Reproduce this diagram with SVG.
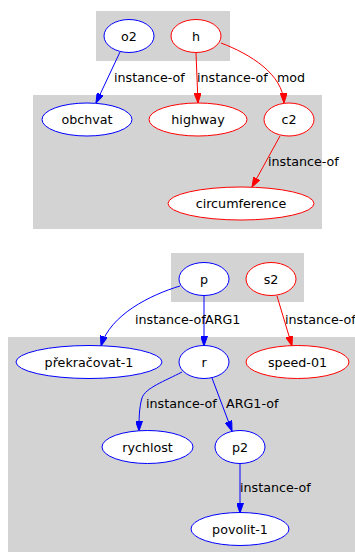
<svg xmlns="http://www.w3.org/2000/svg" width="355" height="552" viewBox="0 0 355 552">
<style>
.cl{fill:#d3d3d3;stroke:none}
.nb{fill:#fff;stroke:#0000ff;stroke-width:1}
.nr{fill:#fff;stroke:#ff0000;stroke-width:1}
text{font-family:"DejaVu Sans",sans-serif;font-size:12.7px;fill:#000}
.c{text-anchor:middle}
.eb{fill:none;stroke:#0000ff;stroke-width:1;marker-end:url(#ab)}
.er{fill:none;stroke:#ff0000;stroke-width:1;marker-end:url(#ar)}
</style>
<defs>
<marker id="ab" markerUnits="userSpaceOnUse" markerWidth="10" markerHeight="7" refX="10" refY="3.5" orient="auto"><path d="M0,0 L10,3.5 L0,7 z" fill="#0000ff" stroke="#0000ff" stroke-width="1"/></marker>
<marker id="ar" markerUnits="userSpaceOnUse" markerWidth="10" markerHeight="7" refX="10" refY="3.5" orient="auto"><path d="M0,0 L10,3.5 L0,7 z" fill="#ff0000" stroke="#ff0000" stroke-width="1"/></marker>
</defs>
<rect width="355" height="552" fill="#fff"/>
<g id="clusters">
<rect class="cl" x="96" y="11" width="134" height="50"/>
<rect class="cl" x="33" y="95" width="289" height="134"/>
<rect class="cl" x="171" y="253" width="133" height="49"/>
<rect class="cl" x="8" y="337" width="347" height="215"/>
</g>
<g id="connectors">
<path class="eb" d="M120,52 L96,103"/>
<path class="er" d="M196,53 L198,103"/>
<path class="er" d="M221,43 C250,54 283,74 284,103"/>
<path class="er" d="M280,136 L252,187"/>
<path class="eb" d="M180,286 C150,295 110,315 101,346"/>
<path class="eb" d="M204,296 L204,346"/>
<path class="er" d="M277,296 L292,346"/>
<path class="eb" d="M182,372 C165,381 145,388 142,398 C139,408 139,420 139,431"/>
<path class="eb" d="M212,378 L232,431"/>
<path class="eb" d="M240,464 L240,513"/>
<text x="114" y="82">instance-of</text>
<text x="197" y="82">instance-of</text>
<text x="277" y="82">mod</text>
<text x="268" y="166">instance-of</text>
<text x="135" y="324">instance-of</text>
<text x="205" y="324">ARG1</text>
<text x="285" y="324">instance-of</text>
<text x="146" y="408">instance-of</text>
<text x="226" y="408">ARG1-of</text>
<text x="240" y="492">instance-of</text>
</g>
<g id="o2"><ellipse class="nb" cx="129" cy="36" rx="25" ry="16.5"/><text class="c" x="129" y="40.5">o2</text></g>
<g id="h"><ellipse class="nr" cx="196" cy="36" rx="25" ry="16.5"/><text class="c" x="196" y="40.5">h</text></g>
<g id="obchvat"><ellipse class="nb" cx="87" cy="119.5" rx="45" ry="16.5"/><text class="c" x="87" y="124">obchvat</text></g>
<g id="highway"><ellipse class="nr" cx="198" cy="119.5" rx="49" ry="16.5"/><text class="c" x="198" y="124">highway</text></g>
<g id="c2"><ellipse class="nr" cx="289" cy="119.5" rx="25" ry="16.5"/><text class="c" x="289" y="124">c2</text></g>
<g id="circumference"><ellipse class="nr" cx="241" cy="203.5" rx="73" ry="16.5"/><text class="c" x="241" y="208">circumference</text></g>
<g id="p"><ellipse class="nb" cx="204" cy="279" rx="25" ry="16.5"/><text class="c" x="204" y="283.5">p</text></g>
<g id="s2"><ellipse class="nr" cx="271" cy="279" rx="25" ry="16.5"/><text class="c" x="271" y="283.5">s2</text></g>
<g id="prekracovat-1"><ellipse class="nb" cx="89" cy="362" rx="73" ry="16.5"/><text class="c" x="89" y="366.5">překračovat-1</text></g>
<g id="r"><ellipse class="nb" cx="204" cy="362" rx="25" ry="16.5"/><text class="c" x="204" y="366.5">r</text></g>
<g id="speed-01"><ellipse class="nr" cx="297.5" cy="362" rx="51.5" ry="16.5"/><text class="c" x="297.5" y="366.5">speed-01</text></g>
<g id="rychlost"><ellipse class="nb" cx="147.5" cy="447" rx="45.5" ry="16.5"/><text class="c" x="147.5" y="451.5">rychlost</text></g>
<g id="p2"><ellipse class="nb" cx="240" cy="447" rx="25" ry="16.5"/><text class="c" x="240" y="451.5">p2</text></g>
<g id="povolit-1"><ellipse class="nb" cx="240" cy="529" rx="49" ry="16.5"/><text class="c" x="240" y="533.5">povolit-1</text></g>
</svg>
